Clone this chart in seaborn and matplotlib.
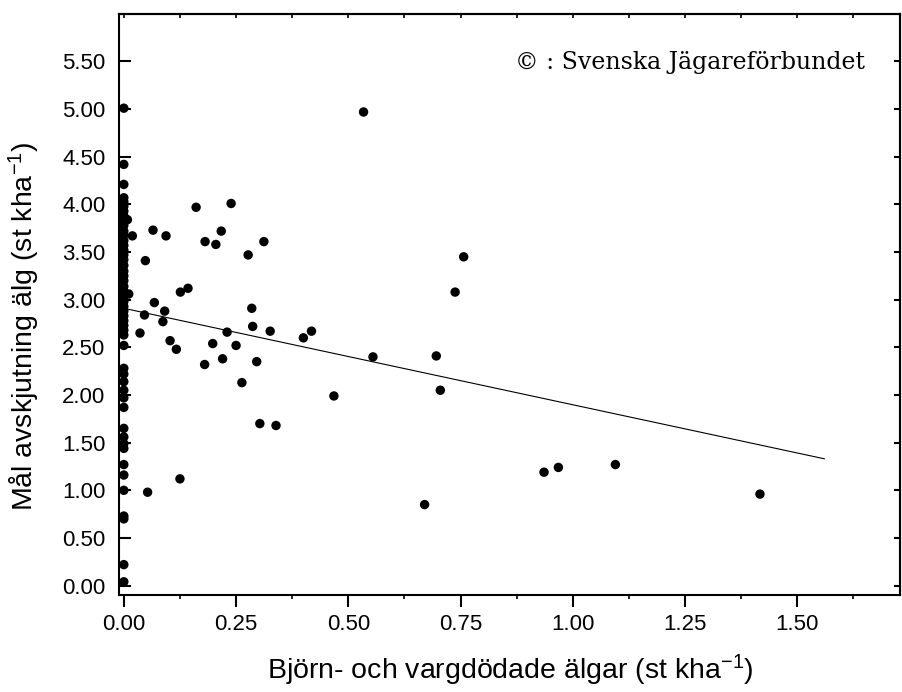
import matplotlib
matplotlib.use('Agg')
import matplotlib.pyplot as plt
import numpy as np
import pandas as pd
import seaborn as sns

# Counties with no bear/wolf kills (x = 0), target moose harvest
zero_y = [5.01, 4.42, 4.21, 4.07, 4.03, 3.98, 3.93, 3.88, 3.82, 3.78, 3.72,
          3.68, 3.62, 3.57, 3.52, 3.47, 3.42, 3.36, 3.30, 3.25, 3.20, 3.14,
          3.09, 3.03, 2.98, 2.93, 2.88, 2.83, 2.78, 2.73, 2.68, 2.63, 2.52,
          2.28, 2.22, 2.14, 2.05, 1.97, 1.87, 1.65, 1.56, 1.49, 1.44, 1.27,
          1.16, 1.00, 0.73, 0.70, 0.22, 0.04]

# Remaining areas
pred_x = [0.534, 0.161, 0.239, 0.065, 0.094, 0.019, 0.008, 0.181, 0.205, 0.217,
          0.312, 0.277, 0.048, 0.757, 0.738, 0.126, 0.143, 0.068, 0.091, 0.011,
          0.046, 0.087, 0.285, 0.287, 0.326, 0.230, 0.036, 0.400, 0.418, 0.103,
          0.198, 0.250, 0.117, 0.555, 0.696, 0.180, 0.220, 0.296, 0.263, 0.705,
          0.468, 0.303, 0.339, 0.125, 0.053, 0.670, 0.936, 0.968, 1.095, 1.417]
pred_y = [4.97, 3.97, 4.01, 3.73, 3.67, 3.67, 3.84, 3.61, 3.58, 3.72,
          3.61, 3.47, 3.41, 3.45, 3.08, 3.08, 3.12, 2.97, 2.88, 3.06,
          2.84, 2.77, 2.91, 2.72, 2.67, 2.66, 2.65, 2.60, 2.67, 2.57,
          2.54, 2.52, 2.48, 2.40, 2.41, 2.32, 2.38, 2.35, 2.13, 2.05,
          1.99, 1.70, 1.68, 1.12, 0.98, 0.85, 1.19, 1.24, 1.27, 0.96]

# Linear fit drawn in the original
fit_x = [0.0, 1.561]
fit_y = [2.91, 1.33]

df = pd.DataFrame({
    'x': [0.0] * len(zero_y) + pred_x,
    'y': zero_y + pred_y,
})

sns.set_style('ticks')
plt.rcParams['font.family'] = ['Liberation Sans', 'DejaVu Sans']
plt.rcParams['mathtext.default'] = 'regular'
for key in ['axes.edgecolor', 'xtick.color', 'ytick.color', 'text.color', 'axes.labelcolor']:
    plt.rcParams[key] = 'black'

fig = plt.figure(figsize=(9.02, 6.92), dpi=100)
ax = fig.add_axes([0.1323, 0.140, 0.866, 0.840])

sns.scatterplot(data=df, x='x', y='y', color='black', s=46, edgecolor='none',
                ax=ax, legend=False, zorder=3)
sns.lineplot(x=fit_x, y=fit_y, color='black', lw=0.8, ax=ax)

ax.set_xlim(-0.01, 1.73)
ax.set_ylim(-0.1, 6.0)
ax.set_xticks(np.arange(0, 1.51, 0.25))
ax.set_xticks(np.arange(0.125, 1.7, 0.25), minor=True)
ax.xaxis.set_major_formatter('{x:.2f}')
ax.set_yticks(np.arange(0, 5.51, 0.5))
ax.yaxis.set_major_formatter('{x:.2f}')

ax.tick_params(axis='x', which='major', direction='out', length=8.5, width=1.5,
               labelsize=16, pad=5)
ax.tick_params(axis='x', which='minor', direction='out', length=3, width=1.2)
ax.tick_params(axis='y', which='major', direction='in', length=8.5, width=1.5,
               labelsize=16, pad=10)

top = ax.secondary_xaxis('top')
top.set_xticks(np.arange(0, 1.7, 0.125))
top.tick_params(direction='in', length=3, width=1.2, labeltop=False)
top.set_xticklabels([])

right = ax.secondary_yaxis('right')
right.set_yticks(np.arange(0, 5.51, 0.5))
right.tick_params(direction='in', length=4, width=1.5, labelright=False)
right.set_yticklabels([])

for sp in list(ax.spines.values()) + [top.spines['top'], right.spines['right']]:
    sp.set_linewidth(1.5)

ax.set_xlabel('Björn- och vargdödade älgar (st kha$^{-1}$)', fontsize=20.5, labelpad=13)
ax.set_ylabel('Mål avskjutning älg (st kha$^{-1}$)', fontsize=20.5)
ax.yaxis.set_label_coords(-0.099, 0.463)

ax.text(0.955, 0.917, '© : Svenska Jägareförbundet', transform=ax.transAxes,
        ha='right', va='center', fontsize=17, family=['DejaVu Serif'])

fig.savefig('out.png', dpi=100)
